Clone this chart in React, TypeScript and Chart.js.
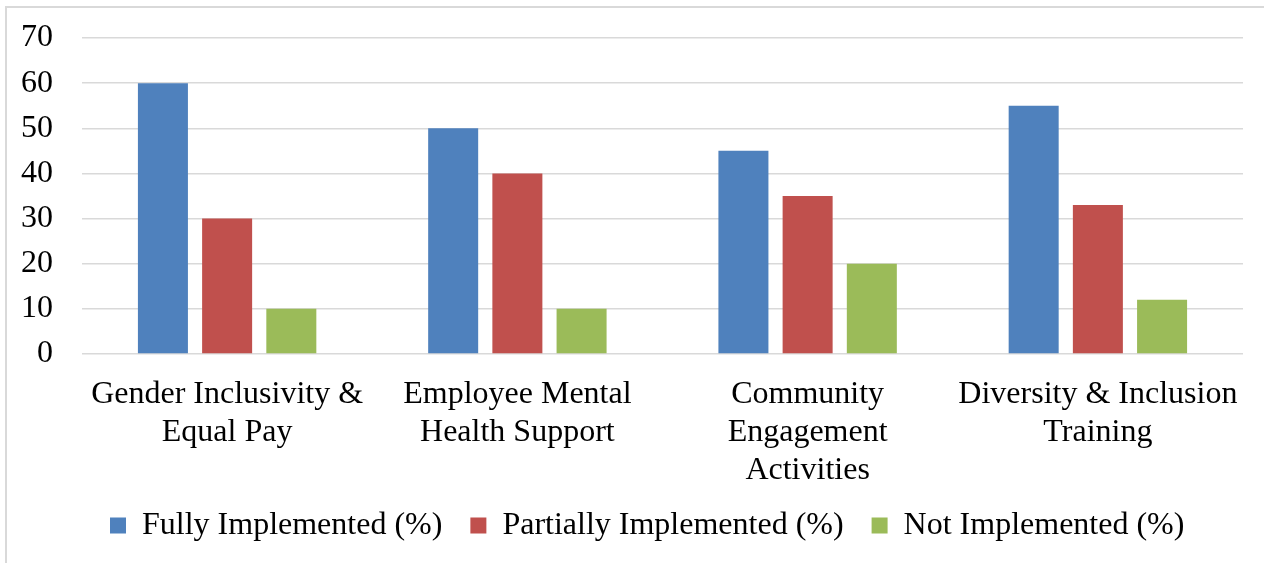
import React, { useEffect, useRef } from "react";
import { Chart, registerables } from "chart.js";

Chart.register(...registerables);

const categories: string[][] = [
  ["Gender Inclusivity &", "Equal Pay"],
  ["Employee Mental", "Health Support"],
  ["Community", "Engagement", "Activities"],
  ["Diversity & Inclusion", "Training"],
];
const seriesNames = ["Fully Implemented (%)", "Partially Implemented (%)", "Not Implemented (%)"];
const fullyImplemented = [60, 50, 45, 55];
const partiallyImplemented = [30, 40, 35, 33];
const notImplemented = [10, 10, 20, 12];
const yMin = 0;
const yMax = 70;
const yStep = 10;

const COLORS = ["#4F81BD", "#C0504D", "#9BBB59"];
const FONT = "'Liberation Serif', 'Times New Roman', serif";

export default function App() {
  const ref = useRef<HTMLCanvasElement | null>(null);

  useEffect(() => {
    if (!ref.current) return;
    const values = [fullyImplemented, partiallyImplemented, notImplemented];
    const chart = new Chart(ref.current, {
      type: "bar",
      data: {
        labels: categories,
        datasets: seriesNames.map((name, i) => ({
          label: name,
          data: values[i],
          backgroundColor: COLORS[i],
          borderWidth: 0,
          categoryPercentage: 0.6636,
          barPercentage: 0.779,
        })),
      },
      options: {
        animation: false,
        responsive: false,
        devicePixelRatio: window.devicePixelRatio || 1,
        layout: { padding: { left: 0, right: 21, top: 38, bottom: 11.5 } },
        plugins: {
          tooltip: { enabled: false },
          legend: {
            position: "bottom",
            align: "start",
            fullSize: false,
            labels: {
              boxWidth: 16,
              boxHeight: 16,
              padding: 28,
              color: "#000",
              font: { family: FONT, size: 32, lineHeight: 1.2 },
            },
          },
        },
        scales: {
          x: {
            grid: { display: false, drawTicks: false },
            border: { display: false },
            ticks: {
              color: "#000",
              font: { family: FONT, size: 32, lineHeight: 1.2 },
              padding: 21,
              maxRotation: 0,
              minRotation: 0,
              autoSkip: false,
            },
            afterFit: (scale: any) => {
              scale.height = 127.5;
            },
          },
          y: {
            min: yMin,
            max: yMax,
            grid: {
              color: "#D9D9D9",
              lineWidth: 1.5,
              drawTicks: true,
              tickLength: 19,
              tickColor: "rgba(0,0,0,0)",
            },
            border: { display: false },
            ticks: {
              stepSize: yStep,
              color: "#000",
              font: { family: FONT, size: 32, lineHeight: 1.2 },
              padding: 10,
            },
            afterFit: (scale: any) => {
              scale.width = 82;
            },
          },
        },
      },
    });
    return () => chart.destroy();
  }, []);

  return (
    <div style={{ position: "fixed", left: 0, top: 0, width: 1264, height: 563, overflow: "hidden", background: "#fff" }}>
      <div
        style={{
          position: "absolute",
          left: 5,
          top: 6,
          width: 1400,
          height: 700,
          border: "2px solid #D9D9D9",
          boxSizing: "border-box",
        }}
      />
      <canvas ref={ref} width={1264} height={563} style={{ position: "absolute", left: 0, top: 0, width: 1264, height: 563 }} />
    </div>
  );
}
